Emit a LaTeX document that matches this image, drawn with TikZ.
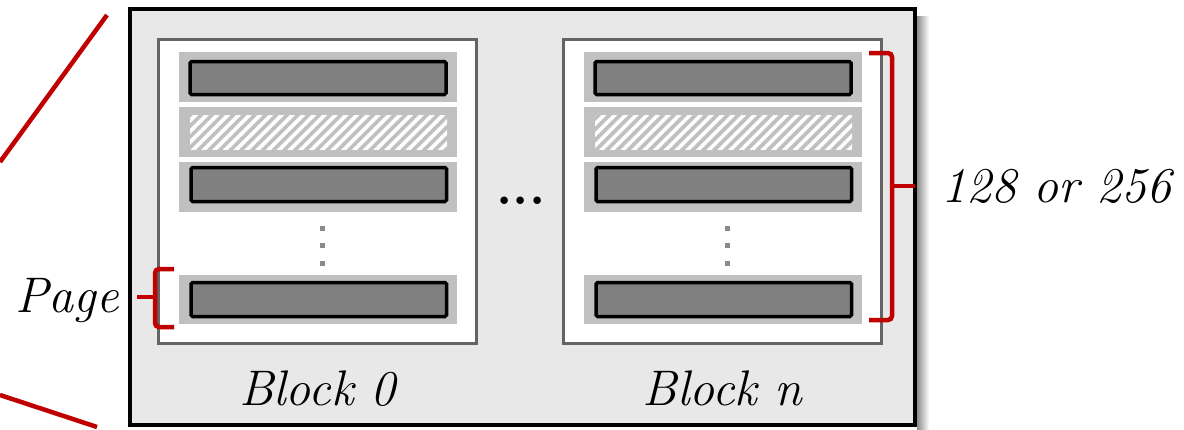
\documentclass[tikz,border=0pt]{standalone}
\usetikzlibrary{patterns.meta}
\definecolor{outerfill}{HTML}{E8E8E8}
\definecolor{blockborder}{HTML}{646464}
\definecolor{rowbg}{HTML}{C0C0C0}
\definecolor{barfill}{HTML}{808080}
\definecolor{dotgray}{HTML}{8A8A8A}
\definecolor{zoomred}{HTML}{C00000}
\begin{document}
\begin{tikzpicture}[x=1pt,y=-1pt,
  outer/.style={draw=black, fill=outerfill, line width=4pt},
  blockbox/.style={draw=blockborder, fill=white, line width=3.5pt},
  rowbox/.style={fill=rowbg},
  bar/.style={draw=black, fill=barfill, line width=3.5pt, rounded corners=1.5pt},
  hatch/.style={pattern={Lines[angle=45,distance=7.6pt,line width=3.6pt]}, pattern color=white},
  redline/.style={draw=zoomred, line width=4.5pt},
  bracket/.style={draw=zoomred, line width=4.5pt, rounded corners=4pt},
  vdots/.style={draw=dotgray, line width=5pt, dash pattern=on 5pt off 12.5pt},
  lbl/.style={font=\fontsize{50}{60}\selectfont\itshape, inner sep=0pt}
]
\useasboundingbox (0,0) rectangle (1184,429);
% zoom lines
\draw[redline] (0,162) -- (107,15);
\draw[redline] (0,395) -- (97,427);
% shadow and outer box
\shade[left color=black!45, right color=white] (917,16) rectangle (929,429);
\draw[outer] (130,9) rectangle (915,425);
% blocks
\foreach \dx/\nm/\cx in {0/0/317.5, 405/n/722.5}{
  \begin{scope}[xshift=\dx]
    \draw[blockbox] (158.5,39.5) rectangle (476.5,343.5);
    \fill[rowbox] (179,52) rectangle (457,102);
    \draw[bar] (190,61.5) rectangle (446,94.5);
    \fill[rowbox] (179,107) rectangle (457,157);
    \fill[hatch] (190,115) rectangle (447,149);
    \fill[rowbox] (179,162) rectangle (457,212);
    \draw[bar] (191,167.5) rectangle (446.5,201.5);
    \fill[rowbox] (179,275) rectangle (457,324);
    \draw[bar] (191,282.5) rectangle (446.5,316.5);
    \coordinate (dtop\nm) at (322,225.5);
    \coordinate (dbot\nm) at (322,270);
    \draw[vdots] (dtop\nm) -- (dbot\nm);
  \end{scope}
  \node[lbl, anchor=base] (blk\nm) at (\cx,405) {Block \nm};
}
% ellipsis between blocks
\node[font=\fontsize{52}{60}\selectfont\bfseries, inner sep=0pt, anchor=base] (ell) at (521,204) {...};
% page bracket
\draw[bracket] (174,269) -- (155,269) -- (155,327) -- (174,327);
\draw[bracket] (155,297) -- (137,297);
\node[lbl, anchor=base east] (page) at (119,312) {Page};
% count bracket
\draw[bracket] (869,53) -- (892,53) -- (892,320) -- (869,320);
\draw[bracket] (892,186) -- (915,186);
\node[lbl, anchor=base west] (count) at (941,202) {128 or 256};
\end{tikzpicture}
\end{document}
